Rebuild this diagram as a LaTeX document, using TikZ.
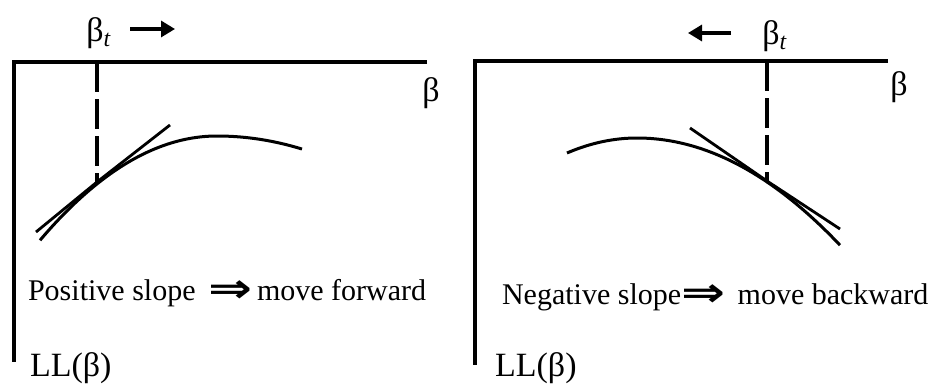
\documentclass[tikz,border=0pt]{standalone}
\usepackage{graphicx}
\usepackage{fontspec}
\setmainfont{Liberation Serif}
\newfontfamily\arrowfont{DejaVu Sans}
\usetikzlibrary{arrows.meta}

\begin{document}
\begin{tikzpicture}[x=0.5pt, y=-0.5pt, font=\fontsize{15}{18}\selectfont, >={Triangle[length=7pt,width=8pt]},
    axis/.style={line width=1.75pt},
    curve/.style={line width=1.5pt},
    tangent/.style={line width=1.4pt},
    guide/.style={line width=2pt, dash pattern=on 15pt off 3.5pt},
    move/.style={line width=1.6pt, ->},
    greek/.style={font=\fontsize{17}{20}\selectfont}]
  \useasboundingbox (0,0) rectangle (940,385);
  \def\impl{\raisebox{-0.15ex}{\scalebox{1.75}[1.35]{\arrowfont\bfseries ⇒}}}

  % left panel: positive slope
  \coordinate (lo) at (14,62);
  \coordinate (lx) at (427,62);
  \coordinate (ly) at (14,362);
  \coordinate (ltp) at (97,182);
  \draw[axis] (lx) -- (lo) -- (ly);
  \draw[guide] (97,62) -- (ltp);
  \draw[curve] plot[domain=40:217, samples=30, smooth] (\x, {136+(0.0577*(\x-217))^2})
    -- plot[domain=217:302, samples=15, smooth] (\x, {136+(0.0425*(\x-217))^2});
  \draw[tangent] (36,232) -- (ltp) -- (170,125);
  \node[greek] (lbt) at (99,33) {β\textsubscript{\textit{t}}};
  \node[greek] (lb) at (431,93) {β};
  \coordinate (la1) at (130,29);
  \coordinate (la2) at (175,29);
  \draw[move] (la1) -- (la2);
  \node[anchor=west] (lrule) at (21,293) {Positive slope\ \,\impl\,move forward};
  \node[anchor=west, greek] (lll) at (23,368) {LL(β)};

  % right panel: negative slope
  \coordinate (ro) at (475,61);
  \coordinate (rx) at (888,61);
  \coordinate (ry) at (475,365);
  \coordinate (rtp) at (767,181);
  \draw[axis, line width=2.1pt] (rx) -- (ro) -- (ry);
  \draw[guide] (767,61) -- (rtp);
  \draw[curve] plot[domain=567:637, samples=12, smooth] (\x, {138+(0.0553*(\x-637))^2})
    -- plot[domain=637:840, samples=30, smooth] (\x, {138+(0.051*(\x-637))^2});
  \draw[tangent] (690,128) -- (rtp) -- (840,229);
  \node[greek] (rbt) at (775,36) {β\textsubscript{\textit{t}}};
  \node[greek] (rb) at (899,87) {β};
  \coordinate (ra1) at (731,33);
  \coordinate (ra2) at (688,33);
  \draw[move] (ra1) -- (ra2);
  \node[anchor=west] (rrule) at (495,297) {Negative slope\impl\ \,move backward};
  \node[anchor=west, greek] (rll) at (488,368) {LL(β)};
\end{tikzpicture}
\end{document}
